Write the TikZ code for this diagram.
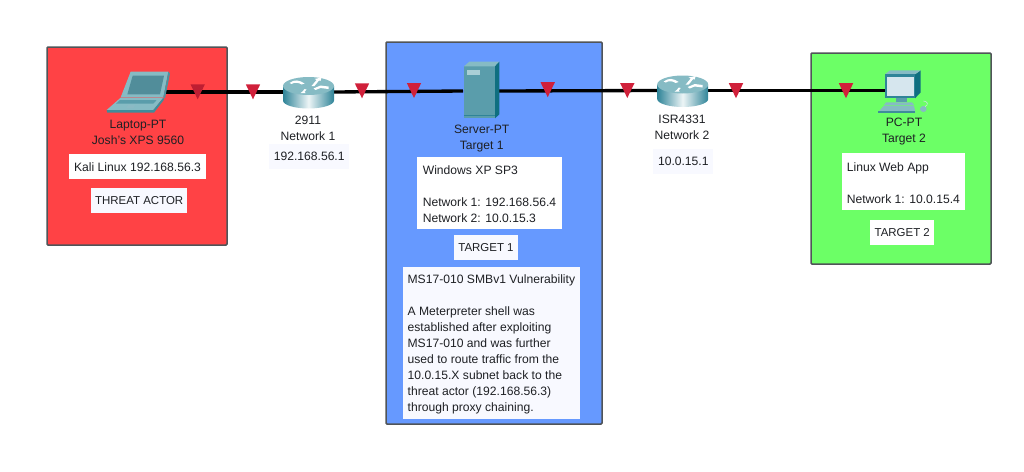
\documentclass[tikz,border=0pt]{standalone}
\usepackage{fontspec}
\setmainfont{Liberation Sans}
\definecolor{redbox}{HTML}{FF4245}
\definecolor{bluebox}{HTML}{6699FF}
\definecolor{greenbox}{HTML}{6CFF66}
\definecolor{edgegrey}{HTML}{505458}
\definecolor{labelbg}{HTML}{F8F9FF}
\definecolor{inkc}{HTML}{1E2024}
\definecolor{marker}{HTML}{D0203A}
\definecolor{markerdark}{HTML}{BE1E32}
\definecolor{tealA}{HTML}{5A9DAB}
\definecolor{tealB}{HTML}{86BBC4}
\definecolor{tealC}{HTML}{0F6F80}
\definecolor{tealD}{HTML}{2F8498}
\definecolor{screenc}{HTML}{D6E6EE}
\tikzset{
  region/.style={draw=edgegrey,line width=1.125pt,rounded corners=.75pt,anchor=north west,inner sep=0pt,outer sep=0pt},
  tag/.style={fill=labelbg,text=inkc,font=\fontsize{9.1}{12}\selectfont,inner sep=0pt,outer sep=0pt,anchor=center,align=center},
  captag/.style={tag,font=\fontsize{8.6}{12}\selectfont},
  notebox/.style={tag,align=left,anchor=north west,inner ysep=0pt},
  devlabel/.style={text=inkc,font=\fontsize{9.1}{12}\selectfont,inner sep=0pt,align=center,anchor=center},
  iconbox/.style={inner sep=0pt,outer sep=0pt,anchor=center},
  link/.style={draw=black,line width=2.5pt},
}
\newcommand{\linkmark}[3][marker]{\fill[#1] (#2-7.2,#3-7.5) -- (#2+7.2,#3-7.5) -- (#2,#3+7.5) -- cycle;}
\newcommand{\routericon}[2]{%
  \begin{scope}[shift={(#1,#2)}]
    \shade[left color=tealD,right color=tealD,middle color=white!85!tealB]
      (-25.5,-6) -- (-25.5,8.5) arc[start angle=180,end angle=0,x radius=25.5,y radius=8] -- (25.5,-6) -- cycle;
    \fill[tealB] (0,-6) ellipse[x radius=25.5,y radius=9];
    \fill[white] (-19,-9) .. controls (-14,-13) and (-9,-12) .. (-4,-8.5) -- (-7,-7.5) .. controls (-10,-9.5) and (-14,-10) .. (-17,-8) -- cycle;
    \fill[white] (3,-6) -- (8,-12) -- (6,-13) -- (13,-14.5) -- (12,-11) -- (10.5,-11.5) -- (6,-6) -- cycle;
    \fill[white] (5,-3.5) -- (12,-6.5) -- (20,-5.5) -- (20,-3) -- (12,-4) -- (7,-2) -- cycle;
    \fill[white] (-8,1) -- (-6,-0.5) -- (-4,-3) -- (-2,-2.5) -- (-4,0) -- (-3,1) -- cycle;
  \end{scope}}
\begin{document}
\begin{tikzpicture}[x=0.75pt,y=-0.75pt]
\useasboundingbox (0,0) rectangle (1024,471);
% regions
\node[region,fill=redbox,minimum width=135pt,minimum height=148.5pt] (redregion) at (47,47) {};
\node[region,fill=bluebox,minimum width=162pt,minimum height=286.5pt] (blueregion) at (386,42) {};
\node[region,fill=greenbox,minimum width=135pt,minimum height=158.25pt] (greenregion) at (811,53) {};
% icon anchors
\node[iconbox,minimum width=40.5pt,minimum height=30pt] (laptop) at (138,92) {};
\node[iconbox,minimum width=38.25pt,minimum height=12pt] (routera) at (308.5,92) {};
\node[iconbox,minimum width=27pt,minimum height=50pt] (server) at (481,91) {};
\node[iconbox,minimum width=38.25pt,minimum height=12pt] (routerb) at (682.7,90.5) {};
\node[iconbox,minimum width=36pt,minimum height=30pt] (pc) at (909,90.5) {};
% connectors
\draw[link] (laptop.east) -- (routera.west);
\draw[link] (routera.east) -- (server.west);
\draw[link] (server.east) -- (routerb.west);
\draw[link] (routerb.east) -- (pc.west);
% markers
\linkmark[markerdark]{197.7}{91.8}
\linkmark{253}{91.8}
\linkmark{362}{90.8}
\linkmark{414}{90.5}
\linkmark{547.7}{89.7}
\linkmark{627.3}{90.5}
\linkmark{736}{90.7}
\linkmark{846}{90.7}
% laptop icon
\begin{scope}[shift={(100,65)},x=.25pt,y=-.25pt]
  \fill[tealB] (92,20) -- (205,20) -- (190,97) -- (62,97) -- cycle;
  \fill[tealC!75] (205,20) -- (210,26) -- (195,100) -- (190,97) -- cycle;
  \fill[tealA!90!black] (98,32) -- (192,32) -- (180,88) -- (82,88) -- cycle;
  \fill[tealB] (62,98) -- (190,98) -- (160,135) -- (20,135) -- cycle;
  \fill[tealC!80] (20,135) -- (160,135) -- (190,98) -- (192,104) -- (162,143) -- (22,143) -- cycle;
  \fill[tealA] (60,105) -- (170,105) -- (160,116) -- (48,116) -- cycle;
  \fill[tealA!70!white] (85,120) -- (105,120) -- (100,130) -- (78,130) -- cycle;
\end{scope}
% routers
\routericon{308.5}{92}
\routericon{682.7}{90.5}
% server icon
\begin{scope}[shift={(450,55)},x=.25pt,y=-.25pt]
  \fill[tealA] (42,34) rectangle (135,190);
  \fill[tealB] (42,34) -- (58,20) -- (148,20) -- (135,34) -- cycle;
  \fill[tealC] (135,34) -- (148,20) -- (148,178) -- (135,190) -- cycle;
  \fill[tealB!70!white] (50,45) rectangle (90,60);
  \draw[tealD,line width=.5pt] (42,180) -- (135,180);
\end{scope}
% pc icon
\begin{scope}[shift={(870,65)},x=.25pt,y=-.25pt]
  \fill[tealC] (135,28) -- (152,16) -- (152,82) -- (135,100) -- cycle;
  \fill[tealB] (45,28) -- (60,16) -- (152,16) -- (135,28) -- cycle;
  \fill[tealD] (45,28) rectangle (135,100);
  \fill[screenc] (50,36) rectangle (133,93);
  \fill[tealA] (78,100) rectangle (112,112);
  \fill[tealB] (48,112) -- (126,112) -- (132,120) -- (42,120) -- cycle;
  \fill[tealB] (42,122) -- (132,122) -- (136,142) -- (24,142) -- cycle;
  \fill[tealC!80] (24,138) -- (136,138) -- (136,144) -- (24,144) -- cycle;
  \fill[tealB] (160,132) ellipse[x radius=10,y radius=9];
  \draw[white!60!tealB,line width=.4pt] (165,125) .. controls (178,118) and (172,108) .. (160,108);
\end{scope}
% device labels
\node[devlabel] (laptoplabel) at (138,132.2) {Laptop-PT\\Josh's XPS 9560};
\node[devlabel] (routeralabel) at (308,128.5) {2911\\Network 1};
\node[devlabel] (serverlabel) at (481.7,138.5) {Server-PT\\Target 1};
\node[devlabel] (routerblabel) at (682,127.5) {ISR4331\\Network 2};
\node[devlabel] (pclabel) at (904,131.2) {PC-PT\\Target 2};
% tags
\node[tag,fill=white,minimum width=102.3pt,minimum height=18.75pt] (kali) at (137.5,166.8) {Kali Linux 192.168.56.3};
\node[captag,minimum width=72.2pt,minimum height=18.75pt] (threat) at (139.2,200.8) {THREAT ACTOR};
\node[tag,minimum width=60.2pt,minimum height=18.75pt] (neta) at (309.2,156.8) {192.168.56.1};
\node[tag,minimum width=45pt,minimum height=18.5pt] (netb) at (683.3,161.3) {10.0.15.1};
\node[captag,minimum width=48.5pt,minimum height=18.75pt] (targetone) at (486,247.5) {TARGET 1};
\node[captag,fill=white,minimum width=48.2pt,minimum height=18.75pt] (targettwo) at (902.2,232.7) {TARGET 2};
% notes
\node[notebox,fill=white,minimum width=108.3pt,minimum height=54.5pt,inner xsep=3.75pt] (winnote) at (417.3,156.7)
  {\rule{0pt}{8.8pt}Windows XP SP3\\\mbox{}\\Network 1: 192.168.56.4\\Network 2: 10.0.15.3};
\node[notebox,fill=white,minimum width=92.5pt,minimum height=42.5pt,inner xsep=3.75pt] (linuxnote) at (841.7,153.3)
  {\rule{0pt}{8.8pt}Linux Web App\\\mbox{}\\Network 1: 10.0.15.4};
\node[notebox,minimum width=133pt,minimum height=114pt,inner xsep=3.5pt] (vulnnote) at (402.7,266.7)
  {\rule{0pt}{9.4pt}MS17-010 SMBv1 Vulnerability\\\mbox{}\\A Meterpreter shell was\\established after exploiting\\MS17-010 and was further\\used to route traffic from the\\10.0.15.X subnet back to the\\threat actor (192.168.56.3)\\through proxy chaining.};
\end{tikzpicture}
\end{document}
